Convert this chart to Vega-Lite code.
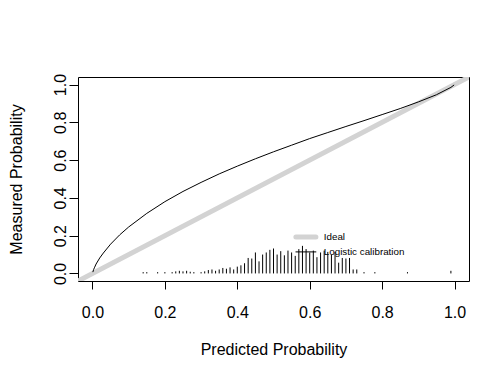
{
  "$schema": "https://vega.github.io/schema/vega-lite/v6.json",
  "width": 391,
  "height": 204,
  "autosize": {"type": "none"},
  "padding": {"left": 78, "top": 77, "right": 34, "bottom": 90},
  "background": "white",
  "config": {
    "view": {"stroke": "black", "strokeWidth": 1},
    "font": "Liberation Sans",
    "axis": {"labelColor": "black", "titleColor": "black", "tickColor": "black", "labelFont": "Liberation Sans", "titleFont": "Liberation Sans"},
    "legend": {"labelFont": "Liberation Sans"}
  },
  "datasets": {
    "ideal": [
      {"series": "Ideal", "p": -0.04, "m": -0.04},
      {"series": "Ideal", "p": 1.04, "m": 1.04}
    ],
    "logistic": [
      {"series": "Logistic calibration", "p": 0.001, "m": 0.007},
      {"series": "Logistic calibration", "p": 0.003, "m": 0.02},
      {"series": "Logistic calibration", "p": 0.006, "m": 0.033},
      {"series": "Logistic calibration", "p": 0.01, "m": 0.05},
      {"series": "Logistic calibration", "p": 0.02, "m": 0.082},
      {"series": "Logistic calibration", "p": 0.03, "m": 0.108},
      {"series": "Logistic calibration", "p": 0.05, "m": 0.155},
      {"series": "Logistic calibration", "p": 0.075, "m": 0.204},
      {"series": "Logistic calibration", "p": 0.1, "m": 0.246},
      {"series": "Logistic calibration", "p": 0.15, "m": 0.318},
      {"series": "Logistic calibration", "p": 0.2, "m": 0.38},
      {"series": "Logistic calibration", "p": 0.25, "m": 0.434},
      {"series": "Logistic calibration", "p": 0.3, "m": 0.482},
      {"series": "Logistic calibration", "p": 0.35, "m": 0.527},
      {"series": "Logistic calibration", "p": 0.4, "m": 0.568},
      {"series": "Logistic calibration", "p": 0.45, "m": 0.607},
      {"series": "Logistic calibration", "p": 0.5, "m": 0.644},
      {"series": "Logistic calibration", "p": 0.55, "m": 0.679},
      {"series": "Logistic calibration", "p": 0.6, "m": 0.714},
      {"series": "Logistic calibration", "p": 0.65, "m": 0.746},
      {"series": "Logistic calibration", "p": 0.7, "m": 0.778},
      {"series": "Logistic calibration", "p": 0.75, "m": 0.809},
      {"series": "Logistic calibration", "p": 0.8, "m": 0.841},
      {"series": "Logistic calibration", "p": 0.85, "m": 0.873},
      {"series": "Logistic calibration", "p": 0.9, "m": 0.908},
      {"series": "Logistic calibration", "p": 0.95, "m": 0.946},
      {"series": "Logistic calibration", "p": 0.99, "m": 0.985},
      {"series": "Logistic calibration", "p": 0.999, "m": 0.998}
    ],
    "spikes": [
      {"p": 0.14, "h": 0.007}, {"p": 0.15, "h": 0.007}, {"p": 0.18, "h": 0.007},
      {"p": 0.2, "h": 0.007}, {"p": 0.22, "h": 0.007}, {"p": 0.23, "h": 0.011},
      {"p": 0.24, "h": 0.014}, {"p": 0.25, "h": 0.011}, {"p": 0.26, "h": 0.014},
      {"p": 0.27, "h": 0.009}, {"p": 0.28, "h": 0.007}, {"p": 0.3, "h": 0.007},
      {"p": 0.31, "h": 0.011}, {"p": 0.32, "h": 0.018}, {"p": 0.33, "h": 0.021},
      {"p": 0.34, "h": 0.014}, {"p": 0.35, "h": 0.021}, {"p": 0.36, "h": 0.029},
      {"p": 0.37, "h": 0.025}, {"p": 0.38, "h": 0.032}, {"p": 0.39, "h": 0.021},
      {"p": 0.4, "h": 0.036}, {"p": 0.41, "h": 0.043}, {"p": 0.42, "h": 0.054},
      {"p": 0.43, "h": 0.082}, {"p": 0.44, "h": 0.079}, {"p": 0.45, "h": 0.111},
      {"p": 0.46, "h": 0.064}, {"p": 0.47, "h": 0.1}, {"p": 0.48, "h": 0.111},
      {"p": 0.49, "h": 0.125}, {"p": 0.5, "h": 0.132}, {"p": 0.51, "h": 0.1},
      {"p": 0.52, "h": 0.118}, {"p": 0.53, "h": 0.096}, {"p": 0.54, "h": 0.121},
      {"p": 0.55, "h": 0.111}, {"p": 0.56, "h": 0.093}, {"p": 0.57, "h": 0.129},
      {"p": 0.58, "h": 0.146}, {"p": 0.59, "h": 0.129}, {"p": 0.6, "h": 0.111},
      {"p": 0.61, "h": 0.121}, {"p": 0.62, "h": 0.086}, {"p": 0.63, "h": 0.111},
      {"p": 0.64, "h": 0.121}, {"p": 0.65, "h": 0.114}, {"p": 0.66, "h": 0.1},
      {"p": 0.67, "h": 0.114}, {"p": 0.68, "h": 0.057}, {"p": 0.69, "h": 0.082},
      {"p": 0.7, "h": 0.079}, {"p": 0.71, "h": 0.082}, {"p": 0.72, "h": 0.021},
      {"p": 0.73, "h": 0.021}, {"p": 0.75, "h": 0.007}, {"p": 0.78, "h": 0.007},
      {"p": 0.87, "h": 0.007}, {"p": 0.99, "h": 0.014}
    ]
  },
  "layer": [
    {
      "data": {"name": "ideal"},
      "mark": {"type": "line", "strokeWidth": 5, "clip": true, "strokeCap": "butt"},
      "encoding": {
        "x": {
          "field": "p", "type": "quantitative",
          "scale": {"domain": [-0.04, 1.04], "nice": false, "zero": false},
          "axis": {
            "values": [0, 0.2, 0.4, 0.6, 0.8, 1], "format": ".1f", "domain": false, "grid": false,
            "tickSize": 8, "labelFontSize": 16, "labelPadding": 15,
            "title": "Predicted Probability", "titleFontSize": 16, "titleFontWeight": "normal", "titlePadding": 21
          }
        },
        "y": {
          "field": "m", "type": "quantitative",
          "scale": {"domain": [-0.04, 1.04], "nice": false, "zero": false},
          "axis": {
            "values": [0, 0.2, 0.4, 0.6, 0.8, 1], "format": ".1f", "domain": false, "grid": false,
            "tickSize": 9, "labelFontSize": 16, "labelPadding": 4, "labelAngle": -90,
            "labelAlign": "center", "labelBaseline": "alphabetic",
            "title": "Measured Probability", "titleFontSize": 16, "titleFontWeight": "normal", "titlePadding": 28
          }
        },
        "color": {
          "field": "series", "type": "nominal",
          "scale": {"domain": ["Ideal", "Logistic calibration"], "range": ["#d3d3d3", "black"]},
          "legend": {
            "title": null, "orient": "none", "legendX": 223, "legendY": 155,
            "symbolType": "stroke", "symbolSize": 400, "symbolStrokeWidth": 1,
            "labelFontSize": 9.8, "labelOffset": 13, "labelColor": "black", "rowPadding": -1.5, "padding": 0,
            "encode": {
              "symbols": {"update": {
                "strokeWidth": {"signal": "datum.value === 'Ideal' ? 5 : 1"},
                "strokeCap": {"value": "round"}
              }}
            }
          }
        }
      }
    },
    {
      "data": {"name": "spikes"},
      "mark": {"type": "rule", "color": "black", "strokeWidth": 1},
      "encoding": {
        "x": {"field": "p", "type": "quantitative"},
        "y": {"field": "h", "type": "quantitative"},
        "y2": {"datum": 0}
      }
    },
    {
      "data": {"name": "logistic"},
      "mark": {"type": "line", "strokeWidth": 1, "clip": true},
      "encoding": {
        "x": {"field": "p", "type": "quantitative"},
        "y": {"field": "m", "type": "quantitative"},
        "color": {"field": "series", "type": "nominal"}
      }
    }
  ]
}
